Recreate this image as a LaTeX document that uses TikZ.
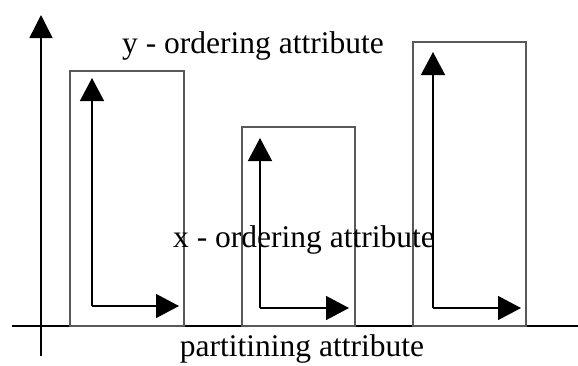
\documentclass[tikz,border=0pt]{standalone}
\usepackage{fontspec}
\setmainfont{Liberation Serif}
\usetikzlibrary{arrows.meta}
\begin{document}
\begin{tikzpicture}[x=1pt,y=-1pt,
  bar/.style={draw=black!65,line width=1.6pt,inner sep=0pt,outer sep=0pt,anchor=south west},
  axis/.style={draw=black,line width=1.4pt},
  dirarrow/.style={draw=black,line width=1.4pt,-{Triangle[length=23pt,width=24pt]}},
  lbl/.style={inner sep=0pt,anchor=base,font=\fontsize{31.5}{36}\selectfont}]
\useasboundingbox (0,0) rectangle (578,365);
% axes
\coordinate (ybot) at (41,356);
\coordinate (ytop) at (41,15);
\coordinate (xl) at (12,326);
\coordinate (xr) at (578,326);
\draw[axis,-{Triangle[length=23pt,width=23pt]}] (ybot) -- (ytop);
\draw[axis] (xl) -- (xr);
% bars
\node[bar,minimum width=114pt,minimum height=255pt] (b1) at (70,326) {};
\node[bar,minimum width=113pt,minimum height=199pt] (b2) at (242,326) {};
\node[bar,minimum width=113pt,minimum height=284pt] (b3) at (413,326) {};
% inner arrows
\coordinate (o1) at (92,306);
\coordinate (u1) at (92,78);
\coordinate (r1) at (179,306);
\coordinate (o2) at (260,308);
\coordinate (u2) at (260,138);
\coordinate (r2) at (349,308);
\coordinate (o3) at (433,308);
\coordinate (u3) at (433,52);
\coordinate (r3) at (521,308);
\draw[dirarrow] (o1) -- (u1);
\draw[dirarrow] (o1) -- (r1);
\draw[dirarrow] (o2) -- (u2);
\draw[dirarrow] (o2) -- (r2);
\draw[dirarrow] (o3) -- (u3);
\draw[dirarrow] (o3) -- (r3);
% labels
\node[lbl] (ylab) at (253,53) {y - ordering attribute};
\node[lbl] (xlab) at (304,247) {x - ordering attribute};
\node[lbl] (plab) at (302,356) {partitining attribute};
\end{tikzpicture}
\end{document}
